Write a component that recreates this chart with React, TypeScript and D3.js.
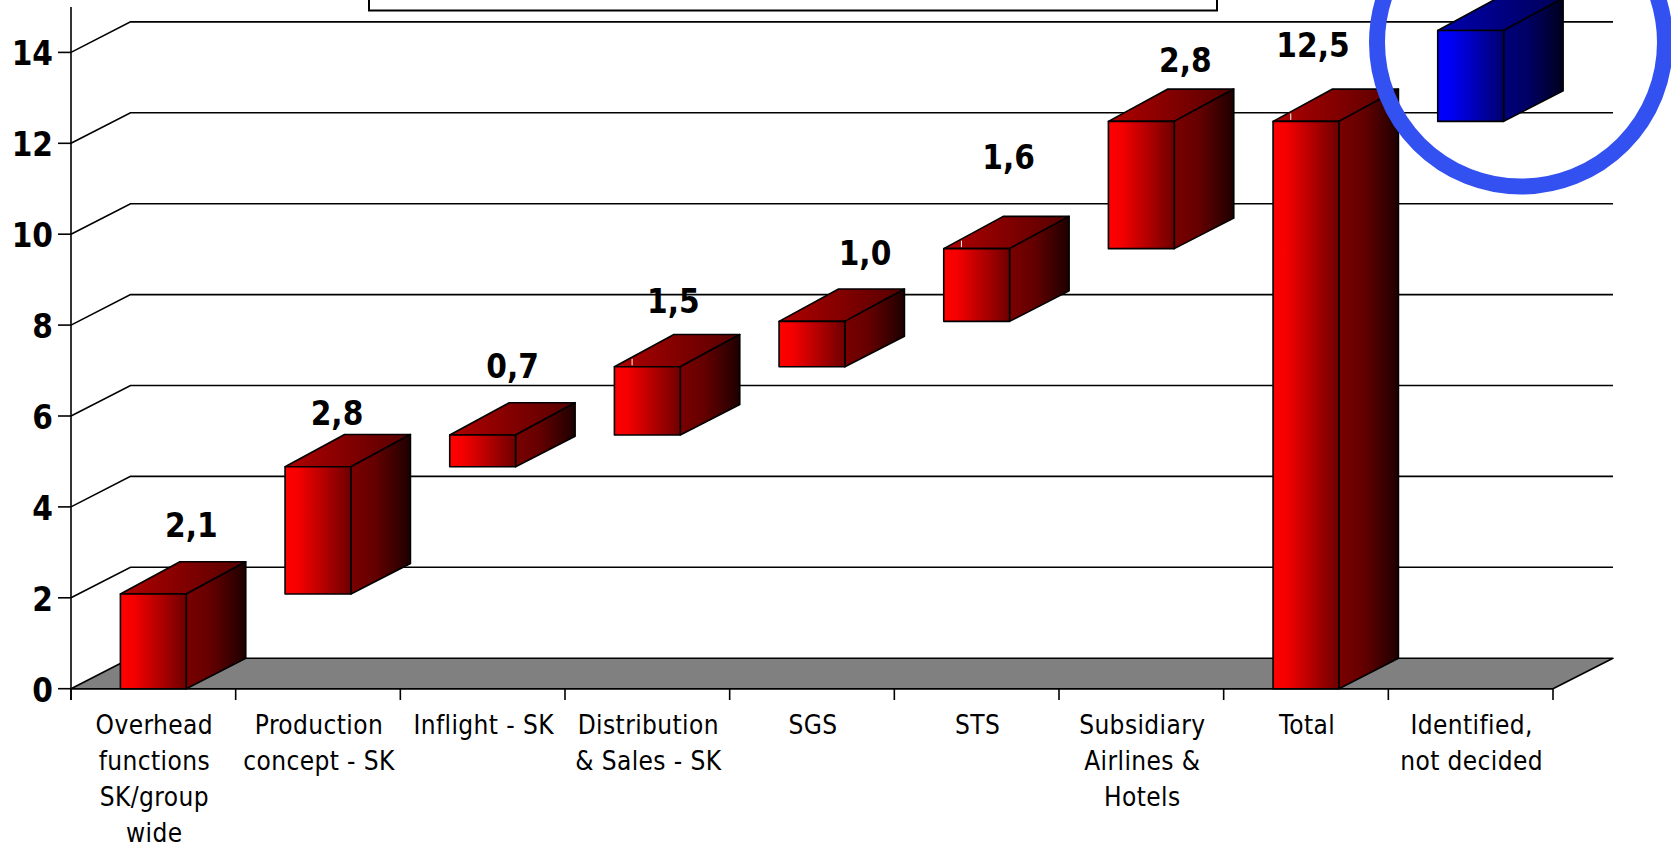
import React from "react";
import * as d3 from "d3";

// Waterfall of savings per area, closing with the total and an open item.
const categoryLines: string[][] = [
  ["Overhead", "functions", "SK/group", "wide"],
  ["Production", "concept - SK"],
  ["Inflight - SK"],
  ["Distribution", "& Sales - SK"],
  ["SGS"],
  ["STS"],
  ["Subsidiary", "Airlines &", "Hotels"],
  ["Total"],
  ["Identified,", "not decided"],
];
const increments = [2.1, 2.8, 0.7, 1.5, 1.0, 1.6, 2.8];
const totalValue = 12.5;
const identifiedValue = 2.0;
const yTicks = [0, 2, 4, 6, 8, 10, 12, 14];
const whiteMarkBars = [3, 5, 7];

// Hand placement of the value labels, relative to the top of each bar.
const labelDx = [38, 19, 30, 26, 53, 32, 44, 7];
const labelDy = [-56, -40.5, -56, -53, -55.5, -79, -49, -64];

const WIDTH = 1671;
const HEIGHT = 846;
const DEPTH_X = 59.5;
const DEPTH_Y = -30.5;
const BAR_TOP_DEPTH_Y = -32.3;
const BAR_NUDGE_Y = 0.8;
const FONT = "'DejaVu Sans', Verdana, sans-serif";

const y = d3.scaleLinear().domain([0, 14]).range([688.7, 52.4]);
const x = d3
  .scaleBand<number>()
  .domain(d3.range(categoryLines.length))
  .range([71, 1553])
  .paddingInner(0.6)
  .paddingOuter(0.3);
const step = x.step();
const axisLeft = 71;
const axisRight = 1553;

const running = Array.from(d3.cumsum(increments));
type Bar = { index: number; from: number; to: number; blue: boolean; label?: string };
const fmt = (v: number) => v.toFixed(1).replace(".", ",");
const bars: Bar[] = [
  ...increments.map((v, i) => ({
    index: i,
    from: i === 0 ? 0 : running[i - 1],
    to: running[i],
    blue: false,
    label: fmt(v),
  })),
  { index: 7, from: 0, to: totalValue, blue: false, label: fmt(totalValue) },
  { index: 8, from: totalValue, to: totalValue + identifiedValue, blue: true },
];

const pts = (list: [number, number][]) => list.map((p) => p.join(",")).join(" ");

function Gradient({ id, stops }: { id: string; stops: [number, string][] }) {
  return (
    <linearGradient id={id} x1="0" x2="1" y1="0" y2="0">
      {stops.map(([o, c]) => (
        <stop key={o} offset={o} stopColor={c} />
      ))}
    </linearGradient>
  );
}

function Box({ bar }: { bar: Bar }) {
  const x0 = x(bar.index)!;
  const x1 = x0 + x.bandwidth();
  const top = y(bar.to) + BAR_NUDGE_Y;
  const bottom = bar.from === 0 ? y(0) : y(bar.from) + BAR_NUDGE_Y;
  const tone = bar.blue ? "blue" : "red";
  return (
    <g stroke="#000" strokeWidth={1.6} strokeLinejoin="round">
      <polygon
        fill={`url(#${tone}-top)`}
        points={pts([
          [x0, top],
          [x0 + DEPTH_X, top + BAR_TOP_DEPTH_Y],
          [x1 + DEPTH_X, top + BAR_TOP_DEPTH_Y],
          [x1, top],
        ])}
      />
      <polygon
        fill={`url(#${tone}-side)`}
        points={pts([
          [x1, top],
          [x1 + DEPTH_X, top + BAR_TOP_DEPTH_Y],
          [x1 + DEPTH_X, bottom + DEPTH_Y],
          [x1, bottom],
        ])}
      />
      <rect fill={`url(#${tone}-front)`} x={x0} y={top} width={x1 - x0} height={bottom - top} />
      {whiteMarkBars.includes(bar.index) && (
        <line x1={x0 + 17.7} x2={x0 + 17.7} y1={top - 8} y2={top - 1.5} stroke="#fff" strokeWidth={1} />
      )}
    </g>
  );
}

export default function App() {
  return (
    <svg
      width={WIDTH}
      height={HEIGHT}
      viewBox={`0 0 ${WIDTH} ${HEIGHT}`}
      style={{ position: "absolute", left: 0, top: 0, display: "block", background: "#fff" }}
    >
      <defs>
        <Gradient id="red-front" stops={[[0, "#ff0000"], [0.2, "#f50000"], [1, "#6e0000"]]} />
        <Gradient id="red-side" stops={[[0, "#7a0000"], [0.4, "#650000"], [1, "#1e0000"]]} />
        <Gradient id="red-top" stops={[[0, "#b00000"], [1, "#550000"]]} />
        <Gradient id="blue-front" stops={[[0, "#0000ff"], [0.2, "#0000f5"], [1, "#00006e"]]} />
        <Gradient id="blue-side" stops={[[0, "#00007a"], [0.4, "#000065"], [1, "#00001e"]]} />
        <Gradient id="blue-top" stops={[[0, "#0000b0"], [1, "#000055"]]} />
      </defs>

      {/* Back wall and side wall grid lines */}
      <g fill="none" stroke="#000" strokeWidth={1.6}>
        {yTicks.slice(1).map((t) => (
          <polyline
            key={t}
            points={pts([
              [axisLeft, y(t)],
              [axisLeft + DEPTH_X, y(t) + DEPTH_Y],
              [axisRight + DEPTH_X + 0.5, y(t) + DEPTH_Y],
            ])}
          />
        ))}
      </g>

      {/* Floor */}
      <polygon
        fill="#808080"
        stroke="#000"
        strokeWidth={1.6}
        strokeLinejoin="round"
        points={pts([
          [axisLeft, y(0)],
          [axisLeft + DEPTH_X, y(0) + DEPTH_Y],
          [axisRight + DEPTH_X + 0.5, y(0) + DEPTH_Y],
          [axisRight, y(0)],
        ])}
      />

      {/* Axes */}
      <g stroke="#000" strokeWidth={1.6}>
        <line x1={axisLeft} x2={axisLeft} y1={7} y2={700} />
        <line x1={axisLeft} x2={axisRight} y1={y(0)} y2={y(0)} />
        {yTicks.map((t) => (
          <line key={t} x1={58} x2={axisLeft} y1={y(t)} y2={y(t)} />
        ))}
        {d3.range(categoryLines.length + 1).map((i) => (
          <line key={i} x1={axisLeft + i * step} x2={axisLeft + i * step} y1={y(0)} y2={700} />
        ))}
      </g>

      {bars.map((b) => (
        <Box key={b.index} bar={b} />
      ))}

      {/* Value labels */}
      <g fontFamily={FONT} fontWeight={700} fontSize={33} fill="#000" textAnchor="middle" style={{ fontStretch: "condensed" }}>
        {bars
          .filter((b) => b.label)
          .map((b) => (
            <text
              key={b.index}
              x={x(b.index)! + x.bandwidth() / 2 + labelDx[b.index]}
              y={y(b.to) + labelDy[b.index]}
            >
              {b.label}
            </text>
          ))}
        {yTicks.map((t) => (
          <text key={t} x={53} y={y(t) + 13} textAnchor="end">
            {t}
          </text>
        ))}
      </g>

      {/* Category labels */}
      <g
        fontFamily={FONT}
        fontSize={26}
        letterSpacing={0.4}
        fill="#000"
        textAnchor="middle"
        style={{ fontStretch: "condensed" }}
      >
        {categoryLines.map((lines, i) =>
          lines.map((line, k) => (
            <text key={k} x={x(i)! + x.bandwidth() / 2 + 1} y={734 + k * 36}>
              {line}
            </text>
          ))
        )}
      </g>

      {/* Callout frame running off the top edge */}
      <rect x={369} y={-20} width={848} height={30.5} fill="#fff" stroke="#000" strokeWidth={2} />

      {/* Highlight ring around the undecided item */}
      <circle cx={1521} cy={42.5} r={144} fill="none" stroke="#3350f0" strokeWidth={16} />
    </svg>
  );
}
